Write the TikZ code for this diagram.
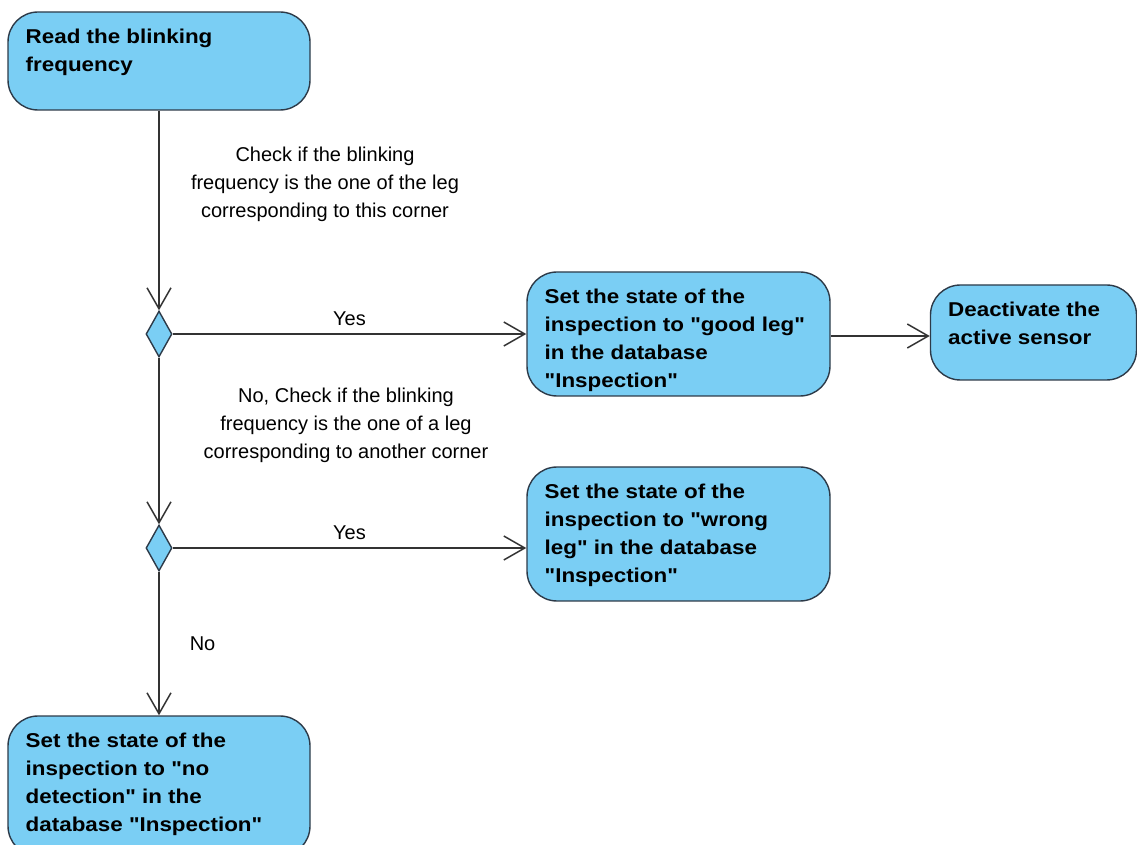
\documentclass[tikz,border=0pt]{standalone}
\usepackage{fontspec}
\setmainfont{Liberation Sans}[Ligatures=TeXOff]
\newfontfamily\actfont{Liberation Sans}[Ligatures=TeXOff, FakeStretch=1.12]
\usetikzlibrary{positioning,arrows.meta,shapes.geometric,calc}
\definecolor{actfill}{RGB}{122,206,244}
\definecolor{actdraw}{RGB}{45,58,72}

\begin{document}
\begin{tikzpicture}[
  x=0.5pt, y=-0.5pt,
  fl/.style   = {-{Straight Barb[length=10.5pt,width=12pt]}, line width=0.75pt, draw=black!80},
  act/.style  = {draw=actdraw, fill=actfill, line width=0.7pt, rounded corners=15pt,
                 inner sep=0pt},
  txt/.style  = {anchor=north west, inner sep=0pt, align=left,
                 font=\actfont\fontsize{10}{14}\selectfont\bfseries,
                 execute at begin node=\strut},
  dec/.style  = {diamond, draw=actdraw, fill=actfill, line width=0.7pt, inner sep=0pt,
                 minimum width=13pt, minimum height=23pt},
  lbl/.style  = {align=center, inner sep=0pt, font=\fontsize{10}{14}\selectfont},
]
\useasboundingbox (0,0) rectangle (1137,845);

% ================= actions =============================================
\node[act, minimum width=151pt, minimum height=49pt] (read) at (159,61) {};
\node[txt] (readt) at ($(read.north west)+(9pt,-8.7pt)$)
  {Read the blinking\\frequency};

\node[act, minimum width=151.5pt, minimum height=62pt] (good) at (678.5,334) {};
\node[txt] (goodt) at ($(good.north west)+(9pt,-8.7pt)$)
  {Set the state of the\\inspection to "good leg"\\in the database\\"Inspection"};

\node[act, minimum width=103pt, minimum height=47.5pt] (deact) at (1033.5,332.5) {};
\node[txt] (deactt) at ($(deact.north west)+(9pt,-8.7pt)$)
  {Deactivate the\\active sensor};

\node[act, minimum width=151.5pt, minimum height=67pt] (wrong) at (678.5,534) {};
\node[txt] (wrongt) at ($(wrong.north west)+(9pt,-8.7pt)$)
  {Set the state of the\\inspection to "wrong\\leg" in the database\\"Inspection"};

\node[act, minimum width=151pt, minimum height=70pt] (nodet) at (159,786) {};
\node[txt] (nodett) at ($(nodet.north west)+(9pt,-8.7pt)$)
  {Set the state of the\\inspection to "no\\detection" in the\\database "Inspection"};

% ================= decisions ===========================================
\node[dec] (d1) at (159,334) {};
\node[dec] (d2) at (159,548) {};

% ================= guards ==============================================
\node[lbl] (g1) at (325,184)
  {Check if the blinking\\frequency is the one of the leg\\corresponding to this corner};
\node[lbl] (g2) at (346,425)
  {No, Check if the blinking\\frequency is the one of a leg\\corresponding to another corner};

% ================= edges ===============================================
\draw[fl] (read) -- (d1.north);
\draw[fl] (d1.east) -- (good.west |- d1.east)
  node[lbl, midway, above=4pt] (y1) {Yes};
\draw[fl] (good.east |- 0,336) -- (deact.west |- 0,336);
\draw[fl] (d1.south) -- (d2.north);
\draw[fl] (d2.east) -- (wrong.west |- d2.east)
  node[lbl, midway, above=4pt] (y2) {Yes};
\draw[fl] (d2.south) -- (nodet.north)
  node[lbl, pos=0.5, right=15pt] (n2) {No};

\end{tikzpicture}
\end{document}
